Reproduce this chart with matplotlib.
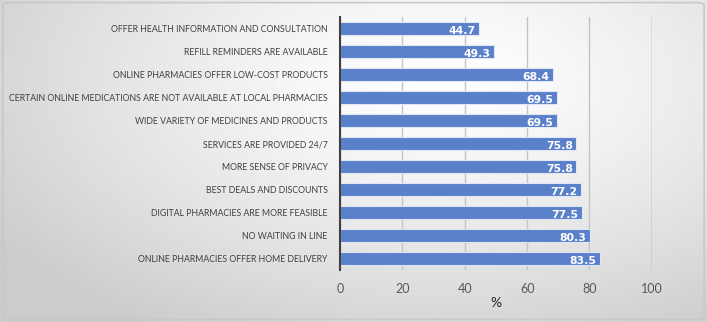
import numpy as np
import matplotlib.pyplot as plt
from matplotlib.patches import FancyBboxPatch

plt.rcParams['font.family'] = ['Lato', 'DejaVu Sans']

# data, top to bottom as in the chart
categories = [
    "OFFER HEALTH INFORMATION AND CONSULTATION",
    "REFILL REMINDERS ARE AVAILABLE",
    "ONLINE PHARMACIES OFFER LOW-COST PRODUCTS",
    "CERTAIN ONLINE MEDICATIONS ARE NOT AVAILABLE AT LOCAL PHARMACIES",
    "WIDE VARIETY OF MEDICINES AND PRODUCTS",
    "SERVICES ARE PROVIDED 24/7",
    "MORE SENSE OF PRIVACY",
    "BEST DEALS AND DISCOUNTS",
    "DIGITAL PHARMACIES ARE MORE FEASIBLE",
    "NO WAITING IN LINE",
    "ONLINE PHARMACIES OFFER HOME DELIVERY",
]
values = [44.7, 49.3, 68.4, 69.5, 69.5, 75.8, 75.8, 77.2, 77.5, 80.3, 83.5]
x_ticks = [0, 20, 40, 60, 80, 100]

fig = plt.figure(figsize=(7.07, 3.22), dpi=100)

# gradient background (white in the middle, grey towards the edges)
bg = fig.add_axes([0, 0, 1, 1], zorder=-10)
gx, gy = np.meshgrid(np.linspace(0, 1, 300), np.linspace(0, 1, 150))
d = np.sqrt(((gx - 0.62) / 0.75) ** 2 + ((gy - 0.25) / 0.9) ** 2)
shade = 1.0 - 0.2 * np.clip(d, 0, 1) ** 1.3
bg.imshow(shade, cmap='gray', vmin=0, vmax=1, extent=[0, 1, 0, 1],
          aspect='auto', origin='upper')
bg.set_xlim(0, 1)
bg.set_ylim(0, 1)
bg.axis('off')
bg.add_patch(FancyBboxPatch((0.004, 0.008), 0.992, 0.984,
                            boxstyle="round,pad=0,rounding_size=0.01",
                            fill=False, edgecolor='#c8c8c8', linewidth=1.2,
                            transform=bg.transAxes))

ax = fig.add_axes([0.481, 0.161, 0.441, 0.786])
ax.patch.set_alpha(0)

y = np.arange(len(categories))
ax.barh(y, values, height=0.58, color='#5a80ca', edgecolor='#dfe6f5',
        linewidth=0.8, zorder=3)

for yi, v in zip(y, values):
    ax.text(v - 1.2, yi + 0.1, f"{v:.1f}", ha='right', va='center',
            color='white', fontsize=7.8, fontweight='bold',
            family='DejaVu Sans', zorder=4)

ax.set_ylim(len(categories) - 0.5, -0.5)
ax.set_xlim(0, 100)
ax.set_yticks(y)
ax.set_yticklabels(categories, fontsize=6.3, color='#404040')
ax.set_xticks(x_ticks)
ax.set_xticklabels([str(t) for t in x_ticks], fontsize=9, color='#595959')
ax.tick_params(length=0)
ax.tick_params(axis='y', pad=9)
ax.tick_params(axis='x', pad=9)
ax.set_xlabel('%', fontsize=10, color='#262626', labelpad=2)

ax.grid(axis='x', color='#c4c4c4', linewidth=1, zorder=0)
ax.get_xgridlines()[-1].set_color('#8c8c8c')
for s in ['top', 'right', 'bottom']:
    ax.spines[s].set_visible(False)
ax.spines['left'].set_color('#404040')
ax.spines['left'].set_linewidth(1.5)
ax.spines['left'].set_zorder(5)

fig.savefig('out.png', dpi=100)
